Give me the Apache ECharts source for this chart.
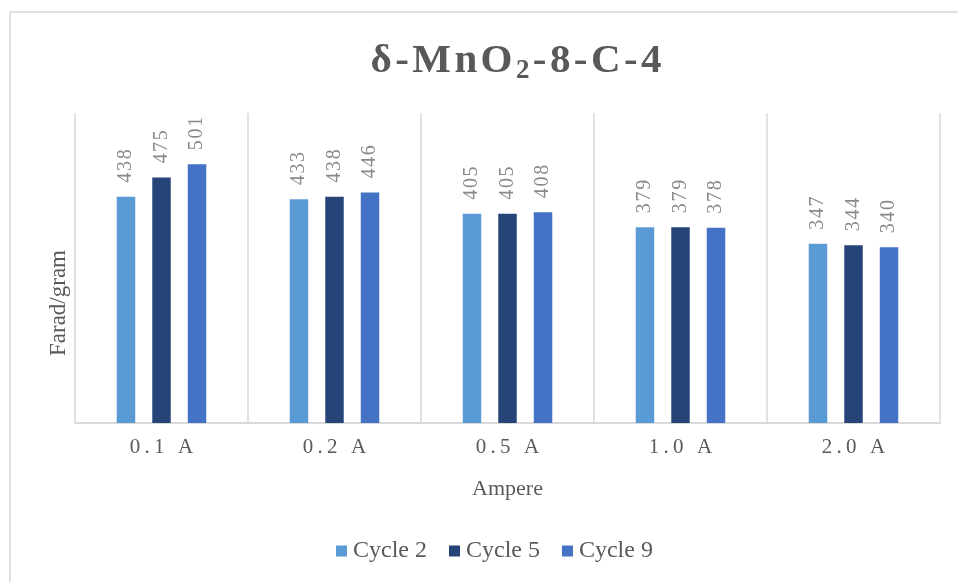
<!DOCTYPE html>
<html>
<head>
<meta charset="utf-8">
<script src="https://cdn.jsdelivr.net/npm/echarts@6/dist/echarts.min.js"></script>
<style>
html,body{margin:0;padding:0;background:#fff;}
#chart{width:958px;height:582px;}
</style>
</head>
<body>
<div id="chart"></div>
<script>
var categories = ['0.1 A', '0.2 A', '0.5 A', '1.0 A', '2.0 A'];
var seriesNames = ['Cycle 2', 'Cycle 5', 'Cycle 9'];
var cycle2 = [438, 433, 405, 379, 347];
var cycle5 = [475, 438, 405, 379, 344];
var cycle9 = [501, 446, 408, 378, 340];
var colors = ['#5B9BD5', '#264478', '#4472C4'];

var serif = '"Liberation Serif", "Times New Roman", serif';
var THIN = '\u2009';
var HAIR = '\u200A';

function spaced(s, sp) { return s.split('').join(sp); }

var chart = echarts.init(document.getElementById('chart'));

function mkSeries(name, data, color) {
  return {
    name: name,
    type: 'bar',
    data: data,
    barWidth: 18.5,
    barGap: '92%',
    itemStyle: { color: color },
    label: {
      show: true,
      position: 'top',
      rotate: 90,
      align: 'left',
      verticalAlign: 'middle',
      distance: 14,
      color: '#8a8a8a',
      fontFamily: serif,
      fontSize: 20,
      formatter: function (p) { return spaced(String(p.value), HAIR); }
    }
  };
}

var titleMain1 = spaced('δ-MnO', HAIR) + HAIR;
var titleMain2 = HAIR + spaced('-8-C-4', HAIR);

chart.setOption({
  animation: false,
  backgroundColor: '#fff',
  graphic: [{
    type: 'rect',
    shape: { x: 10, y: 12, width: 980, height: 600 },
    style: { fill: 'none', stroke: '#d9d9d9', lineWidth: 1.5 },
    silent: true
  }],
  title: {
    text: '{a|' + titleMain1 + '}{s|2}{a|' + titleMain2 + '}',
    left: 511,
    textAlign: 'center',
    top: 36,
    textStyle: {
      rich: {
        a: { fontFamily: serif, fontWeight: 'bold', fontSize: 41, lineHeight: 44, color: '#595959', verticalAlign: 'top' },
        s: { fontFamily: serif, fontWeight: 'bold', fontSize: 27, lineHeight: 30, color: '#595959', verticalAlign: 'bottom', padding: [26, 0, 0, 0] }
      }
    }
  },
  legend: {
    data: seriesNames,
    bottom: 14,
    left: 331,
    itemWidth: 11,
    itemHeight: 11,
    itemGap: 22,
    icon: 'rect',
    textStyle: { fontFamily: serif, fontSize: 24, color: '#595959', padding: [0, 0, 0, 1] }
  },
  grid: { left: 75, right: 18, top: 113, bottom: 159, containLabel: false },
  xAxis: {
    type: 'category',
    data: categories,
    name: 'Ampere',
    nameLocation: 'middle',
    nameGap: 55,
    nameTextStyle: { fontFamily: serif, fontSize: 22, color: '#595959' },
    axisLine: { lineStyle: { color: '#d9d9d9', width: 2 } },
    axisTick: { show: false },
    splitLine: { show: true, lineStyle: { color: '#d9d9d9', width: 1.5 } },
    axisLabel: {
      margin: 14,
      fontFamily: serif,
      fontSize: 21,
      color: '#595959',
      formatter: function (v) { return spaced(v, THIN); }
    }
  },
  yAxis: {
    type: 'value',
    min: 0,
    max: 600,
    interval: 100,
    name: 'Farad/gram',
    nameLocation: 'middle',
    nameGap: 5,
    nameRotate: 90,
    nameTextStyle: { fontFamily: serif, fontSize: 23, color: '#595959', padding: [0, 0, 0, -70] },
    axisLine: { show: false },
    axisTick: { show: false },
    axisLabel: { show: false },
    splitLine: { show: false }
  },
  series: [
    mkSeries(seriesNames[0], cycle2, colors[0]),
    mkSeries(seriesNames[1], cycle5, colors[1]),
    mkSeries(seriesNames[2], cycle9, colors[2])
  ]
});
</script>
</body>
</html>
